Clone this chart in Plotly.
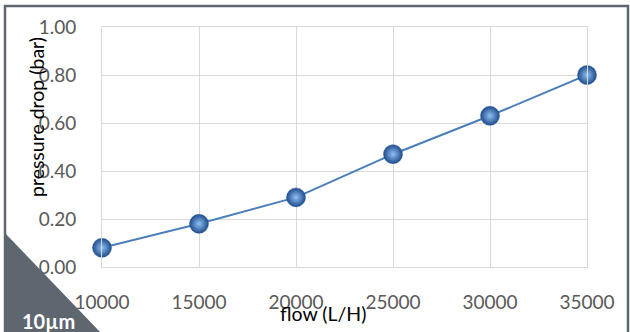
import plotly.graph_objects as go

flow = [10000, 15000, 20000, 25000, 30000, 35000]
pressure_drop = [0.08, 0.18, 0.29, 0.47, 0.63, 0.80]
y_ticks = [0.0, 0.2, 0.4, 0.6, 0.8, 1.0]
y_tick_labels = ["0.00", "0.20", "0.40", "0.60", "0.80", "1.00"]
x_ticks = [10000, 15000, 20000, 25000, 30000, 35000]
x_tick_labels = ["10000", "15000", "20000", "25000", "30000", "35000"]

W, H = 630, 332
L, R, T, B = 102, 587, 27, 267

def px(x):
    return (x - L) / (R - L)

def py(y):
    return (B - y) / (B - T)

FONT = "Lato"
GRID = "#d9d9d9"
FRAME = "#5e6670"

fig = go.Figure()
fig.add_trace(go.Scatter(
    x=flow, y=pressure_drop, mode="lines+markers",
    line=dict(color="#4a7ebb", width=2),
    marker=dict(size=19, color="#1f4c8c",
                gradient=dict(type="radial", color="#8fc0f4"),
                line=dict(color="#2a5a99", width=0.5)),
    showlegend=False, cliponaxis=False,
))

fig.update_layout(
    width=W, height=H,
    margin=dict(l=L, r=W - R, t=T, b=H - B, autoexpand=False),
    paper_bgcolor="white", plot_bgcolor="white",
    xaxis=dict(range=[10000, 35000], tickvals=x_ticks, ticktext=x_tick_labels,
               showgrid=True, gridcolor=GRID, gridwidth=1,
               showline=True, linecolor=GRID, mirror=True, zeroline=False,
               ticks="", ticklabelstandoff=18,
               tickfont=dict(family=FONT, size=19, color="#595959"),
               automargin=False),
    yaxis=dict(range=[0, 1], tickvals=y_ticks, ticktext=y_tick_labels,
               showgrid=True, gridcolor=GRID, gridwidth=1,
               showline=True, linecolor=GRID, mirror=True, zeroline=False,
               ticks="", ticklabelstandoff=21,
               tickfont=dict(family=FONT, size=19, color="#595959"),
               automargin=False),
    shapes=[
        dict(type="rect", xref="paper", yref="paper",
             x0=px(5), x1=px(628), y0=py(345), y1=py(6),
             line=dict(color=FRAME, width=2.5), fillcolor="rgba(0,0,0,0)", layer="above"),
        dict(type="path", xref="paper", yref="paper",
             path=f"M {px(4)} {py(232)} L {px(101)} {py(333)} L {px(4)} {py(333)} Z",
             fillcolor=FRAME, line=dict(width=0), layer="above"),
    ],
    annotations=[
        dict(text="pressure drop (bar)", xref="paper", yref="paper",
             x=px(36), y=py(117), textangle=-90, showarrow=False,
             xanchor="center", yanchor="middle",
             font=dict(family=FONT, size=19.5, color="black")),
        dict(text="flow (L/H)", xref="paper", yref="paper",
             x=px(323), y=py(313), showarrow=False,
             xanchor="center", yanchor="middle",
             font=dict(family=FONT, size=19.5, color="black")),
        dict(text="<b>10µm</b>", xref="paper", yref="paper",
             x=px(48), y=py(321), showarrow=False,
             xanchor="center", yanchor="middle",
             font=dict(family=FONT, size=20, color="white")),
    ],
)

fig.write_html("out.html", config={"displayModeBar": False},
               post_script="document.body.style.margin='0';document.body.style.overflow='hidden';")
